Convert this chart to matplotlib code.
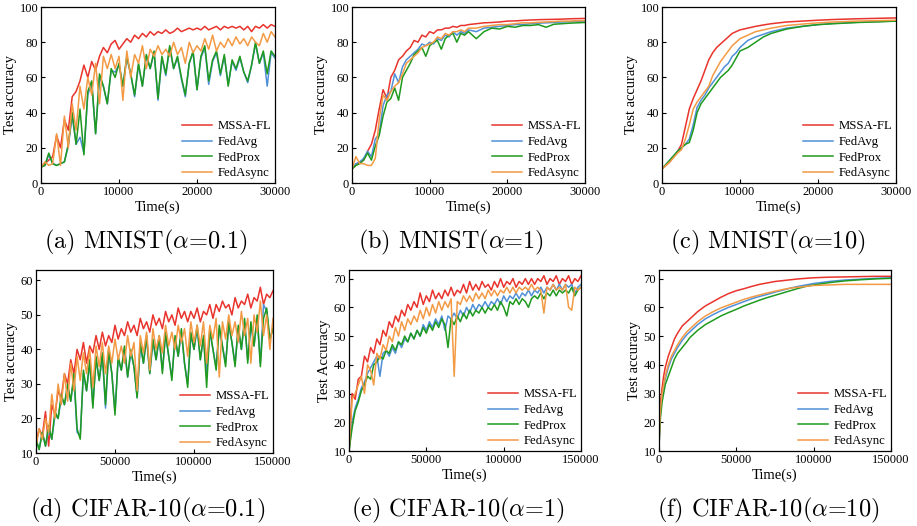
import matplotlib
matplotlib.use('Agg')
import matplotlib.pyplot as plt

# ---- data ----
methods = ['MSSA-FL', 'FedAvg', 'FedProx', 'FedAsync']
colors = ['#e8342c', '#4f90d8', '#1f9a1f', '#f39a45']

# (a) MNIST alpha=0.1, time step 500 s
t_a = list(range(0, 30001, 500))
a_mssa = [9, 11, 13, 15, 27, 20, 36, 30, 49, 52, 58, 67, 60, 69, 64, 72, 77, 74, 79, 81,
          76, 79, 82, 80, 84, 82, 85, 83, 86, 84, 86, 85, 87, 85, 86, 88, 86, 87, 88, 87,
          88, 87, 89, 87, 88, 89, 87, 89, 88, 89, 88, 89, 87, 89, 86, 89, 88, 90, 88, 90, 89]
a_avg = [9, 10, 16, 11, 10, 11, 12, 21, 38, 22, 26, 17, 50, 57, 28, 60, 55, 45, 64, 63,
         67, 55, 71, 62, 49, 67, 55, 72, 65, 74, 47, 71, 61, 77, 65, 71, 59, 49, 68, 74,
         53, 71, 77, 56, 69, 74, 61, 72, 56, 69, 64, 71, 63, 57, 67, 79, 68, 74, 55, 74, 71]
a_prox = [9, 10, 17, 11, 10, 11, 12, 22, 40, 22, 42, 16, 52, 58, 28, 62, 55, 45, 65, 60,
          68, 55, 72, 62, 50, 68, 55, 73, 65, 75, 48, 72, 62, 78, 65, 72, 60, 50, 68, 75,
          53, 72, 78, 58, 70, 75, 62, 73, 55, 70, 65, 72, 63, 58, 67, 80, 68, 75, 62, 75, 72]
a_async = [9, 12, 10, 11, 28, 10, 38, 20, 45, 30, 55, 42, 60, 50, 68, 45, 72, 65, 73, 65,
           72, 47, 75, 60, 73, 68, 78, 65, 76, 72, 78, 73, 76, 72, 80, 73, 77, 68, 80, 74,
           78, 75, 82, 76, 84, 75, 80, 77, 82, 78, 83, 79, 82, 78, 83, 80, 78, 85, 80, 86, 83]

# (b) MNIST alpha=1
t_b = list(range(0, 15001, 500)) + list(range(16000, 30001, 1000))
b_mssa = [8, 10, 12, 13, 18, 22, 30, 42, 53, 48, 60, 64, 70, 72, 75, 77, 81, 80, 84, 83,
          86, 85, 87, 87, 88, 88, 89, 88.5, 89.5, 89.5, 90,
          90.5, 91, 91.2, 91.5, 92, 92.1, 92.4, 92.6, 92.8, 92.9, 93, 93.1, 93.3, 93.4, 93.5]
b_avg = [8, 11, 12, 14, 18, 15, 25, 28, 44, 50, 52, 62, 57, 66, 70, 72, 74, 76, 79, 78,
         80, 79, 82, 81, 84, 83, 86, 84, 86, 85, 87,
         86, 88, 88.5, 89, 89.5, 90, 90, 90.5, 90.8, 91, 91.2, 91.5, 91.6, 91.8, 92]
b_prox = [8, 10, 11, 13, 17, 13, 21, 27, 38, 46, 48, 54, 47, 60, 64, 68, 73, 75, 77, 72,
          78, 80, 81, 76, 82, 84, 85, 80, 85, 84, 86,
          82, 86, 88, 87.5, 89, 88.5, 89.5, 89.5, 90, 88.5, 90.2, 90.5, 90.8, 91, 91.2]
b_async = [8, 15, 11, 11, 10, 10, 14, 36, 50, 47, 52, 55, 57, 62, 68, 70, 72, 74, 77, 78,
           79, 80, 83, 82, 85, 84, 86, 86, 87, 86, 88,
           88, 89, 89.5, 90, 90, 90.5, 91, 91, 91.3, 91.5, 91.7, 92, 92, 92.2, 92.3]

# (c) MNIST alpha=10
t_c = [0, 1000, 2000, 2500, 3000, 3500, 4000, 4500, 5000, 5500, 6000, 6500, 7000, 7500,
       8000, 8500, 9000, 9500, 10000, 11000, 12000, 13000, 14000, 16000, 18000, 20000,
       22000, 25000, 28000, 30000]
c_mssa = [8, 12, 18, 22, 32, 42, 48, 53, 58, 64, 70, 74, 77, 79, 81, 83, 85, 86, 87, 88,
          89, 89.8, 90.5, 91.5, 92, 92.5, 92.9, 93.3, 93.6, 93.8]
c_avg = [8, 13, 18, 20, 22, 25, 33, 43, 47, 50, 54, 57, 60, 63, 66, 68, 72, 74, 77, 81,
         83, 84.5, 86, 88, 89, 90, 90.7, 91.3, 91.8, 92]
c_prox = [8, 13, 18, 20, 22, 23, 30, 40, 45, 48, 51, 54, 57, 60, 62, 64, 67, 71, 75, 77,
          80, 83, 85, 87.5, 89, 90, 90.5, 91.2, 91.6, 92]
c_async = [8, 12, 17, 19, 25, 33, 42, 46, 49, 52, 55, 61, 65, 69, 72, 75, 78, 80, 82, 84,
           86, 87, 88, 89.5, 90.3, 91, 91.5, 92, 92.3, 92.5]

# (d) CIFAR-10 alpha=0.1, time step 2000 s
t_d = list(range(0, 150001, 2000))
d_mssa = [13, 17, 15, 22, 12, 24, 21, 28, 26, 33, 30, 37, 33, 40, 37, 42, 36, 41, 39, 44,
          40, 45, 41, 44, 42, 47, 43, 46, 44, 48, 45, 47, 44, 49, 46, 48, 45, 50, 47, 49,
          46, 51, 48, 50, 47, 52, 49, 51, 48, 51, 49, 52, 48, 51, 50, 53, 49, 53, 51, 54,
          52, 53, 50, 55, 52, 54, 53, 56, 52, 55, 54, 58, 53, 56, 55, 57]
d_avg = [14, 11, 16, 12, 17, 14, 21, 20, 26, 24, 29, 25, 32, 16, 15, 33, 28, 36, 24, 37,
         31, 38, 23, 39, 33, 22, 37, 34, 40, 32, 39, 35, 26, 41, 36, 43, 33, 42, 37, 43,
         34, 44, 38, 32, 43, 38, 45, 36, 30, 44, 40, 46, 37, 43, 33, 45, 40, 35, 46, 41,
         36, 47, 42, 36, 46, 40, 48, 37, 47, 41, 49, 36, 53, 51, 43, 46]
d_prox = [14, 11, 16, 12, 18, 14, 22, 20, 27, 24, 30, 25, 33, 17, 14, 34, 28, 37, 23, 38,
          31, 39, 24, 40, 33, 21, 38, 34, 41, 32, 40, 35, 26, 42, 36, 44, 33, 43, 37, 44,
          33, 45, 38, 31, 44, 38, 46, 36, 29, 45, 40, 47, 37, 44, 29, 46, 40, 34, 47, 41,
          35, 48, 42, 35, 47, 40, 49, 36, 48, 41, 50, 35, 49, 52, 43, 46]
d_async = [12, 17, 14, 20, 16, 27, 20, 30, 24, 33, 25, 36, 28, 38, 31, 39, 33, 40, 29, 41,
           35, 42, 33, 41, 36, 43, 37, 41, 36, 44, 38, 42, 28, 44, 39, 45, 34, 46, 40, 44,
           39, 47, 41, 45, 40, 47, 42, 46, 38, 48, 42, 47, 41, 48, 36, 47, 43, 49, 32, 48,
           43, 50, 44, 48, 42, 51, 44, 49, 36, 50, 45, 54, 44, 50, 40, 49]

# (e) CIFAR-10 alpha=1
t_e = list(range(0, 150001, 2000))
e_mssa = [10, 30, 28, 35, 36, 43, 41, 46, 44, 49, 47, 52, 50, 55, 53, 57, 55, 59, 57, 61,
          59, 62, 60, 65, 61, 64, 62, 66, 63, 65, 63, 66, 64, 67, 64, 66, 65, 68, 65, 69,
          66, 68, 66, 69, 67, 68, 66, 69, 67, 70, 67, 69, 68, 70, 67, 69, 68, 70, 68, 70,
          68, 70, 69, 71, 68, 70, 69, 71, 68, 70, 69, 71, 68, 70, 69, 71]
e_avg = [10, 20, 25, 28, 32, 34, 37, 39, 41, 43, 36, 44, 45, 43, 46, 44, 48, 46, 49, 48,
         51, 49, 52, 50, 54, 52, 55, 53, 56, 54, 57, 52, 57, 56, 58, 56, 59, 57, 60, 58,
         61, 59, 61, 60, 62, 60, 62, 61, 63, 61, 64, 62, 64, 63, 65, 63, 65, 64, 66, 64,
         66, 65, 67, 65, 67, 66, 68, 66, 68, 66, 68, 67, 68, 65, 67, 68]
e_prox = [10, 18, 24, 27, 31, 33, 36, 35, 40, 41, 43, 42, 45, 44, 47, 45, 48, 47, 50, 48,
          51, 49, 52, 50, 53, 51, 54, 52, 55, 53, 56, 54, 46, 56, 54, 57, 55, 58, 56, 59,
          57, 59, 58, 60, 58, 60, 59, 61, 59, 62, 60, 57, 62, 61, 63, 61, 63, 62, 60, 63,
          64, 63, 65, 63, 65, 64, 66, 64, 66, 65, 66, 65, 67, 64, 66, 67]
e_async = [10, 28, 30, 33, 36, 30, 40, 38, 33, 44, 42, 47, 45, 50, 48, 53, 50, 55, 52, 56,
           54, 57, 55, 59, 56, 60, 57, 61, 58, 62, 59, 62, 60, 63, 36, 62, 61, 64, 62, 64,
           62, 65, 63, 65, 63, 66, 64, 66, 64, 66, 65, 67, 65, 67, 65, 67, 66, 67, 66, 68,
           66, 67, 66, 58, 67, 66, 68, 66, 67, 66, 68, 60, 59, 67, 66, 67]

# (f) CIFAR-10 alpha=10
t_f = [0, 500, 1000, 2000, 3000, 4000, 6000, 8000, 10000, 12000, 15000, 18000, 20000,
       25000, 30000, 35000, 40000, 45000, 50000, 55000, 60000, 65000, 70000, 75000, 80000,
       85000, 90000, 95000, 100000, 110000, 120000, 130000, 140000, 150000]
f_mssa = [11, 22, 27, 32, 36, 39, 43, 46, 49, 51, 53.5, 55, 56, 58.5, 60.5, 62, 63.5, 64.8,
          65.8, 66.5, 67.3, 68, 68.5, 69, 69.3, 69.6, 69.9, 70.1, 70.3, 70.5, 70.6, 70.7,
          70.8, 70.8]
f_avg = [11, 19, 24, 29, 32, 35, 39, 42, 44, 46, 48.5, 50.5, 51.5, 54, 56, 57.5, 58.8, 60,
         61, 62, 63, 63.8, 64.5, 65.3, 66, 66.7, 67.3, 67.8, 68.3, 69, 69.5, 69.8, 70.1, 70.3]
f_prox = [11, 18, 22, 27, 30, 33, 36, 39, 42, 44, 46, 48, 49.5, 52, 54, 55.5, 57, 58.2,
          59.3, 60.5, 61.5, 62.5, 63.4, 64.2, 65, 65.8, 66.6, 67.3, 67.8, 68.6, 69.2, 69.6,
          69.9, 70.1]
f_async = [11, 20, 25, 30, 33, 36, 40, 43, 45, 47, 49.5, 51.5, 52.5, 55, 57, 58.5, 59.8,
           60.8, 61.8, 62.8, 63.6, 64.3, 65, 65.6, 66.2, 66.7, 67, 67.3, 67.6, 67.8, 68, 68,
           68, 68]

panels = [
    (t_a, [a_mssa, a_avg, a_prox, a_async], '(a) MNIST($\\alpha$=0.1)', 'Test accuracy'),
    (t_b, [b_mssa, b_avg, b_prox, b_async], '(b) MNIST($\\alpha$=1)', 'Test accuracy'),
    (t_c, [c_mssa, c_avg, c_prox, c_async], '(c) MNIST($\\alpha$=10)', 'Test accuracy'),
    (t_d, [d_mssa, d_avg, d_prox, d_async], '(d) CIFAR-10($\\alpha$=0.1)', 'Test accuracy'),
    (t_e, [e_mssa, e_avg, e_prox, e_async], '(e) CIFAR-10($\\alpha$=1)', 'Test Accuracy'),
    (t_f, [f_mssa, f_avg, f_prox, f_async], '(f) CIFAR-10($\\alpha$=10)', 'Test accuracy'),
]

plt.rcParams['font.family'] = ['Liberation Serif', 'DejaVu Serif']
plt.rcParams['mathtext.fontset'] = 'cm'

fig = plt.figure(figsize=(9.17, 5.26), dpi=100)

# axes boxes in pixels: left, top, right, bottom
boxes = [(41, 7, 275, 183), (352, 7, 585, 183), (662, 7, 896, 183),
         (36, 270, 273, 453), (349, 270, 581, 451), (659, 270, 891, 451)]
cap_pos = [(146, 242), (451, 242), (768, 242), (148, 510), (458, 510), (768, 510)]
W, H = 917, 526

for i, (t, ys, cap, ylab) in enumerate(panels):
    l, tp, r, b = boxes[i]
    ax = fig.add_axes([l / W, 1 - b / H, (r - l) / W, (b - tp) / H])
    for y, name, c in zip(ys, methods, colors):
        ax.plot(t, y, color=c, lw=1.1, label=name)
    if i < 3:
        ax.set_xlim(0, 30000)
        ax.set_ylim(0, 100)
        ax.set_xticks([0, 10000, 20000, 30000])
        ax.set_yticks([0, 20, 40, 60, 80, 100])
    else:
        ax.set_xlim(0, 150000)
        ax.set_xticks([0, 50000, 100000, 150000])
        if i == 3:
            ax.set_ylim(10, 63)
            ax.set_yticks([10, 20, 30, 40, 50, 60])
        else:
            ax.set_ylim(10, 73)
            ax.set_yticks([10, 20, 30, 40, 50, 60, 70])
    ax.ticklabel_format(style='plain', axis='x')
    ax.tick_params(direction='in', length=3, width=0.8, labelsize=9, pad=2)
    for sp in ax.spines.values():
        sp.set_linewidth(0.9)
    ax.set_xlabel('Time(s)', fontsize=10.5, labelpad=2)
    ax.set_ylabel(ylab, fontsize=10.5, labelpad=2)
    ax.legend(loc='lower right', frameon=False, fontsize=9.2, handlelength=2.4,
              labelspacing=0.28, handletextpad=0.4, borderaxespad=0.0, borderpad=0.3)
    fig.text(cap_pos[i][0] / W, 1 - cap_pos[i][1] / H, cap, fontsize=17.5,
             family='cmr10', ha='center', va='center')

fig.savefig('out.png', dpi=100)
